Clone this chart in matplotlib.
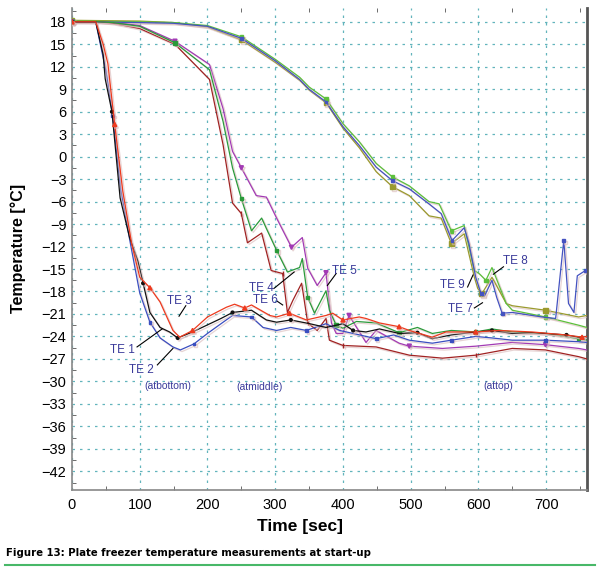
import matplotlib
matplotlib.use("Agg")
from matplotlib import pyplot as plt
from matplotlib import patheffects as pe
from matplotlib.ticker import MultipleLocator

plt.rcParams['font.family'] = ['Liberation Sans', 'DejaVu Sans']

# bottom probes
te1_t = [0, 35, 46, 49, 59, 71, 85, 97, 105, 115, 130, 144, 156, 178, 199, 220, 237, 265, 287, 302, 323,
         351, 375, 400, 415, 434, 454, 483, 510, 532, 560, 596, 620, 650, 680, 699, 730, 748, 760]
te1_T = [18, 18, 13.6, 10.4, 6.0, -5.5, -10.8, -13.9, -16.9, -20.8, -22.8, -23.4, -24.2, -23.4, -22.5, -21.6,
         -20.8, -20.5, -21.8, -22.1, -21.8, -22.3, -22.8, -22.3, -23.2, -23.4, -23.0, -23.6, -23.5, -24.3,
         -23.8, -23.4, -23.2, -23.6, -23.5, -23.6, -23.8, -24.1, -24.0]

te2_t = [0, 35, 43, 50, 60, 72, 86, 100, 115, 130, 149, 160, 180, 200, 220, 237, 265, 282, 302, 323, 346,
         375, 395, 415, 449, 475, 498, 532, 560, 596, 620, 650, 699, 748, 760]
te2_T = [18, 18, 14.5, 11.5, 5.5, -4.5, -11.5, -18.2, -22.1, -24.2, -25.4, -25.8, -25.0, -23.6, -22.3, -21.2,
         -21.4, -22.8, -23.2, -22.8, -23.2, -22.3, -23.2, -23.6, -24.3, -23.8, -24.5, -24.9, -24.5, -24.0,
         -24.2, -24.5, -24.5, -24.7, -24.8]

te3_t = [0, 35, 46, 53, 63, 75, 88, 100, 115, 130, 149, 159, 178, 200, 228, 240, 255, 265, 292, 302, 321,
         346, 375, 385, 400, 424, 434, 454, 483, 498, 532, 552, 596, 630, 679, 729, 753, 760]
te3_T = [18, 18, 15, 12.4, 4.3, -4.6, -11.6, -16.1, -17.5, -19.4, -23.2, -24.1, -23.2, -21.4, -20.1, -19.7,
         -20.2, -19.8, -21.2, -21.4, -20.9, -21.8, -21.2, -20.9, -21.8, -21.4, -21.6, -22.2, -22.7, -23.2,
         -24.1, -23.4, -23.4, -23.2, -23.4, -23.8, -24.1, -24.0]

# middle probes
te4_t = [0, 40, 60, 100, 152, 203, 223, 237, 250, 265, 280, 287, 302, 318, 336, 340, 348, 358, 375, 380,
         390, 400, 420, 449, 483, 510, 532, 560, 596, 620, 650, 699, 748, 760]
te4_T = [18, 18, 17.9, 17.4, 15.2, 11.6, 4.7, -1.5, -5.6, -9.9, -8.2, -9.6, -12.5, -15.4, -14.8, -13.6,
         -18.8, -20.9, -17.9, -20.5, -22.5, -22.9, -22.0, -22.2, -23.5, -22.8, -23.6, -23.2, -23.4, -23.0,
         -23.4, -23.6, -24.3, -24.5]

te5_t = [0, 40, 60, 100, 152, 203, 223, 237, 250, 272, 287, 302, 324, 340, 348, 362, 375, 383, 390, 400,
         409, 434, 449, 483, 498, 547, 596, 650, 699, 748, 760]
te5_T = [18, 18, 17.9, 17.5, 15.4, 12.3, 6.4, 0.7, -1.5, -5.2, -5.4, -8.2, -12.1, -10.8, -14.9, -17.2,
         -15.5, -22.2, -23.6, -23.6, -21.2, -24.8, -23.2, -24.9, -25.3, -25.6, -25.3, -24.8, -25.1, -25.6, -25.8]

te6_t = [0, 40, 60, 100, 152, 203, 223, 237, 250, 259, 280, 294, 311, 318, 326, 339, 348, 362, 375, 380,
         400, 449, 498, 547, 596, 650, 699, 748, 760]
te6_T = [18, 18, 17.8, 17.1, 15.0, 10.3, 1.6, -6.2, -7.6, -11.5, -10.2, -15.2, -15.6, -20.8, -19.2, -16.9,
         -22.2, -23.2, -21.6, -24.5, -25.2, -25.4, -26.5, -26.9, -26.5, -25.6, -25.8, -26.7, -27.0]

# top probes
te7_t = [0, 100, 150, 200, 250, 300, 336, 350, 375, 400, 424, 449, 473, 498, 527, 545, 561, 579, 586, 596,
         604, 609, 620, 627, 635, 650, 694, 714, 726, 733, 741, 746, 758]
te7_T = [18, 17.9, 17.8, 17.4, 15.8, 12.8, 10.3, 9.0, 7.3, 4.0, 1.5, -1.4, -3.2, -4.3, -6.3, -7.6, -11.2,
         -9.5, -11.6, -16.1, -18.3, -18.6, -16.5, -18.8, -20.9, -20.8, -21.4, -21.6, -11.2, -19.6, -20.8,
         -15.9, -15.2]

te8_t = [0, 100, 150, 200, 250, 300, 336, 350, 375, 400, 424, 449, 473, 498, 527, 542, 560, 579, 594, 601,
         611, 620, 641, 650, 699, 748, 760]
te8_T = [18.1, 18.0, 17.9, 17.5, 16.0, 13.0, 10.6, 9.3, 7.7, 4.4, 2.0, -0.9, -2.7, -3.9, -6.0, -6.3, -9.9,
         -9.2, -15.2, -15.6, -16.5, -14.8, -19.6, -20.5, -21.4, -22.5, -22.8]

te9_t = [0, 100, 150, 200, 250, 300, 336, 350, 375, 400, 424, 449, 473, 498, 527, 545, 560, 579, 594, 599,
         605, 620, 641, 650, 699, 748, 760]
te9_T = [18.2, 18.1, 17.9, 17.3, 15.6, 12.6, 10.2, 8.9, 7.2, 3.8, 1.2, -2.0, -4.0, -5.2, -7.9, -8.2, -11.6,
         -10.3, -16.1, -17.6, -18.3, -16.1, -19.6, -19.9, -20.5, -21.4, -21.2]

series = [
    (te9_t, te9_T, '#9a9a2e', 's', 3.5),
    (te8_t, te8_T, '#5cc03c', 's', 2.5),
    (te7_t, te7_T, '#4452c0', 's', 2),
    (te6_t, te6_T, '#a02222', '|', 3),
    (te5_t, te5_T, '#a23ab4', 'v', 3),
    (te4_t, te4_T, '#2a9a3a', 's', 2.5),
    (te2_t, te2_T, '#3a4ec0', 's', 2),
    (te1_t, te1_T, '#111111', 'o', 2),
    (te3_t, te3_T, '#ee3a1e', '^', 3),
]

fig = plt.figure(figsize=(6.0, 5.69), dpi=100)
ax = fig.add_axes([0.12, 0.1388, 0.858, 0.8466])

shadow = [pe.SimpleLineShadow(offset=(1.2, -1.2), shadow_color='#d8b8b8', alpha=0.6), pe.Normal()]
for t, T, c, m, ms in series:
    ax.plot(t, T, color=c, lw=0.9, marker=m, ms=ms, markevery=4, path_effects=shadow, zorder=3)

ax.set_xlim(0, 760)
ax.set_ylim(-44.5, 19.8)
ax.xaxis.set_major_locator(MultipleLocator(100))
ax.xaxis.set_minor_locator(MultipleLocator(50))
ax.yaxis.set_major_locator(MultipleLocator(3))
ax.yaxis.set_minor_locator(MultipleLocator(1.5))
ax.tick_params(which='both', direction='in', top=True, labelsize=10.5, colors='#555555', labelcolor='black')
ax.tick_params(which='major', length=0)
ax.tick_params(which='minor', length=3)
ax.tick_params(axis='x', pad=6)
ax.tick_params(axis='y', pad=4)
ax.grid(True, which='major', color='#62b4bc', linestyle=(0, (2, 4)), lw=0.9)

for s in ['left', 'bottom']:
    ax.spines[s].set_color('#888888')
    ax.spines[s].set_linewidth(1.2)
ax.spines['top'].set_visible(False)
ax.spines['right'].set_color('#555555')
ax.spines['right'].set_linewidth(2)

lab = '#3a3a9a'
notes = [
    ('TE 3', 158, -19.3, 168, -19.9, 158, -21.3),
    ('TE 1', 75, -25.8, 96, -25.4, 133, -23.0),
    ('TE 2', 103, -28.5, 126, -27.8, 149, -25.6),
    ('TE 4', 280, -17.5, 298, -17.6, 328, -15.4),
    ('TE 6', 285, -19.1, 303, -19.3, 311, -19.8),
    ('TE 5', 402, -15.2, 390, -15.6, 377, -17.2),
    ('TE 8', 655, -13.9, 637, -14.7, 622, -15.7),
    ('TE 9', 562, -17.2, 584, -17.4, 592, -15.8),
    ('TE 7', 574, -20.3, 594, -20.2, 606, -19.5),
]
for txt, x, y, x0, y0, x1, y1 in notes:
    ax.text(x, y, txt, color=lab, fontsize=8.5, ha='center', va='center', zorder=5)
    ax.plot([x0, x1], [y0, y1], color='black', lw=0.8, zorder=4)

ax.text(141, -30.6, '(atbottom)', color=lab, fontsize=7.5, ha='center', va='center')
ax.text(277, -30.7, '(atmiddle)', color=lab, fontsize=7.5, ha='center', va='center')
ax.text(630, -30.6, '(attop)', color=lab, fontsize=7.5, ha='center', va='center')

fig.text(0.03, 0.564, 'Temperature [°C]', rotation=90, ha='center', va='center',
         fontsize=11.5, fontweight='bold')
fig.text(0.5, 0.074, 'Time [sec]', ha='center', va='center', fontsize=12.5, fontweight='bold')
fig.text(0.01, 0.028, 'Figure 13: Plate freezer temperature measurements at start-up',
         ha='left', va='center', fontsize=7.3, fontweight='bold', family='DejaVu Sans')
fig.add_artist(plt.Line2D([0.008, 0.992], [0.007, 0.007], color='#48b868', lw=1.5))

fig.savefig('out.png', dpi=100)
